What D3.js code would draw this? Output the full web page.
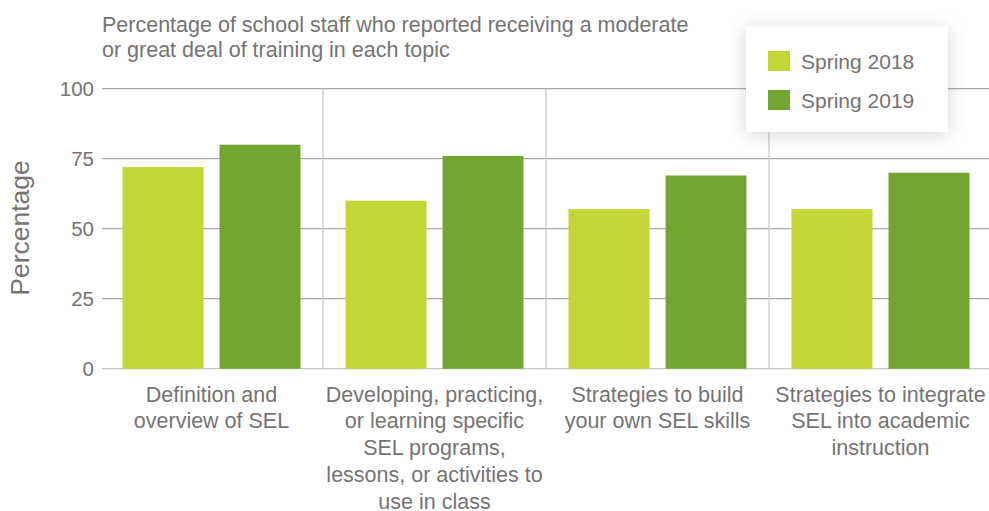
<!DOCTYPE html>
<html>
<head>
<meta charset="utf-8">
<script src="https://cdn.jsdelivr.net/npm/d3@7"></script>
<style>
  body { margin: 0; background: #fff; }
  text { font-family: "Liberation Sans", Arial, Helvetica, sans-serif; fill: #777373; }
</style>
</head>
<body>
<div id="chart"></div>
<script>
// data
var categories = ["def", "dev", "build", "integrate"];
var categoryLabels = [
  ["Definition and", "overview of SEL"],
  ["Developing, practicing,", "or learning specific", "SEL programs,", "lessons, or activities to", "use in class"],
  ["Strategies to build", "your own SEL skills"],
  ["Strategies to integrate", "SEL into academic", "instruction"]
];
var seriesNames = ["Spring 2018", "Spring 2019"];
var spring2018 = [72, 60, 57, 57];
var spring2019 = [80, 76, 69, 70];
var yTicks = [0, 25, 50, 75, 100];
var titleLines = ["Percentage of school staff who reported receiving a moderate",
                  "or great deal of training in each topic"];
var colors = ["#c2d735", "#72a633"];

var w = 989, h = 511;
var plotLeft = 102, plotRight = 992, plotTop = 88.7, plotBottom = 368.7;

var rows = categories.map(function(c, i) {
  return { key: c, values: [spring2018[i], spring2019[i]] };
});

var svg = d3.select("#chart").append("svg")
  .attr("width", w)
  .attr("height", h);

var defs = svg.append("defs");
var filter = defs.append("filter")
  .attr("id", "shadow")
  .attr("x", "-30%").attr("y", "-50%")
  .attr("width", "160%").attr("height", "200%");
filter.append("feDropShadow")
  .attr("dx", 0).attr("dy", 2)
  .attr("stdDeviation", 9)
  .attr("flood-color", "#000")
  .attr("flood-opacity", 0.16);

var x0 = d3.scaleBand()
  .domain(categories)
  .range([100, plotRight]);

var x1 = d3.scaleBand()
  .domain(seriesNames)
  .range([0, 178])
  .paddingInner(0.165);

var y = d3.scaleLinear()
  .domain([0, 100])
  .range([plotBottom, plotTop]);

// horizontal gridlines
svg.append("g")
  .selectAll("line")
  .data(yTicks)
  .enter().append("line")
  .attr("x1", plotLeft)
  .attr("x2", plotRight)
  .attr("y1", function(d) { return y(d); })
  .attr("y2", function(d) { return y(d); })
  .style("stroke", function(d) { return d === 0 ? "#c4c4c4" : "#aaaaaa"; })
  .style("stroke-width", 1.2);

// vertical separators between groups
svg.append("g")
  .selectAll("line")
  .data(categories.slice(1))
  .enter().append("line")
  .attr("x1", function(d) { return x0(d); })
  .attr("x2", function(d) { return x0(d); })
  .attr("y1", y(100))
  .attr("y2", y(0))
  .style("stroke", "#c6c6c6")
  .style("stroke-width", 1.2);

// y axis labels
var yaxis = d3.axisLeft(y)
  .tickValues(yTicks)
  .tickSize(0)
  .tickPadding(8);

var yg = svg.append("g")
  .attr("transform", "translate(" + plotLeft + ",0)")
  .call(yaxis);
yg.select(".domain").remove();
yg.selectAll("text")
  .style("font-size", "20.5px")
  .style("font-family", "'Liberation Sans', Arial, sans-serif")
  .attr("fill", "#777373");

// bars
var groups = svg.append("g")
  .selectAll("g")
  .data(rows)
  .enter().append("g")
  .attr("transform", function(d) {
    return "translate(" + (x0(d.key) + x0.bandwidth() / 2 - 89) + ",0)";
  });

groups.selectAll("rect")
  .data(function(d) { return d.values.map(function(v, i) { return { s: seriesNames[i], v: v, i: i }; }); })
  .enter().append("rect")
  .attr("x", function(d) { return x1(d.s); })
  .attr("width", x1.bandwidth())
  .attr("y", function(d) { return y(d.v); })
  .attr("height", function(d) { return y(0) - y(d.v); })
  .style("fill", function(d) { return colors[d.i]; });

// category labels
var labels = svg.append("g")
  .selectAll("text")
  .data(categories)
  .enter().append("text")
  .attr("x", function(d) { return x0(d) + x0.bandwidth() / 2; })
  .attr("y", 401.7)
  .attr("text-anchor", "middle")
  .style("font-size", "21.5px");

labels.selectAll("tspan")
  .data(function(d, i) { return categoryLabels[i]; })
  .enter().append("tspan")
  .attr("x", function() { return d3.select(this.parentNode).attr("x"); })
  .attr("dy", function(d, i) { return i === 0 ? 0 : 26.7; })
  .text(function(d) { return d; });

// y title
svg.append("text")
  .attr("transform", "translate(28.5,228) rotate(-90)")
  .attr("text-anchor", "middle")
  .style("font-size", "26.5px")
  .text("Percentage");

// chart title
svg.append("g")
  .selectAll("text")
  .data(titleLines)
  .enter().append("text")
  .attr("x", plotLeft)
  .attr("y", function(d, i) { return 31.7 + i * 25.3; })
  .style("font-size", "21.5px")
  .text(function(d) { return d; });

// legend
var legend = svg.append("g");
legend.append("rect")
  .attr("x", 746)
  .attr("y", 26.5)
  .attr("width", 202)
  .attr("height", 105.5)
  .style("fill", "#fff")
  .attr("filter", "url(#shadow)");

var items = legend.selectAll("g.item")
  .data(seriesNames)
  .enter().append("g")
  .attr("class", "item")
  .attr("transform", function(d, i) { return "translate(768," + (51 + i * 39) + ")"; });

items.append("rect")
  .attr("width", 22)
  .attr("height", 20)
  .style("fill", function(d, i) { return colors[i]; });

items.append("text")
  .attr("x", 33)
  .attr("y", 17.5)
  .style("font-size", "21px")
  .text(function(d) { return d; });
</script>
</body>
</html>
